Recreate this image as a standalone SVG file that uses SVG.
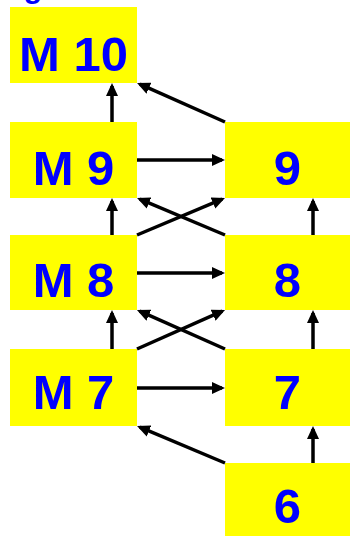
<svg xmlns="http://www.w3.org/2000/svg" width="350" height="536" viewBox="0 0 350 536">
  <style>
    .box { fill: #FFFF00; }
    .lbl { font-family: "Liberation Sans", Arial, sans-serif; font-weight: bold; font-size: 49px; fill: #0000FF; text-anchor: middle; }
    .arr { stroke: #000000; stroke-width: 3.5; fill: none; marker-end: url(#ah); }
  </style>
  <defs>
    <marker id="ah" markerUnits="userSpaceOnUse" markerWidth="13" markerHeight="12" viewBox="0 0 13 12" refX="10" refY="6" orient="auto">
      <path d="M0,0 L13,6 L0,12 z" fill="#000000"/>
    </marker>
  </defs>
  <rect width="350" height="536" fill="#FFFFFF"/>
  <text x="33" y="-2" style="font-family: 'Liberation Sans', Arial, sans-serif; font-weight: bold; font-size: 30px; fill: #0000FF; text-anchor: middle;">g</text>

  <g id="nodeM10"><rect class="box" x="10" y="7" width="127" height="76"/><text class="lbl" x="73.5" y="71">M 10</text></g>
  <g id="nodeM9"><rect class="box" x="10" y="122" width="127" height="76"/><text class="lbl" x="73.5" y="185">M 9</text></g>
  <g id="nodeM8"><rect class="box" x="10" y="235" width="127" height="75"/><text class="lbl" x="73.5" y="297">M 8</text></g>
  <g id="nodeM7"><rect class="box" x="10" y="349" width="127" height="77"/><text class="lbl" x="73.5" y="409">M 7</text></g>
  <g id="node9"><rect class="box" x="225" y="122" width="125" height="76"/><text class="lbl" x="287.5" y="185">9</text></g>
  <g id="node8"><rect class="box" x="225" y="235" width="125" height="75"/><text class="lbl" x="287.5" y="297">8</text></g>
  <g id="node7"><rect class="box" x="225" y="349" width="125" height="77"/><text class="lbl" x="287.5" y="409">7</text></g>
  <g id="node6"><rect class="box" x="225" y="463" width="125" height="73"/><text class="lbl" x="287.5" y="523">6</text></g>

  <g id="connectors">
    <line class="arr" x1="112" y1="122" x2="112" y2="86"/>
    <line class="arr" x1="112" y1="235" x2="112" y2="201"/>
    <line class="arr" x1="112" y1="349" x2="112" y2="313"/>
    <line class="arr" x1="313" y1="235" x2="313" y2="201"/>
    <line class="arr" x1="313" y1="349" x2="313" y2="313"/>
    <line class="arr" x1="313" y1="463" x2="313" y2="429"/>
    <line class="arr" x1="137" y1="160" x2="222" y2="160"/>
    <line class="arr" x1="137" y1="273" x2="222" y2="273"/>
    <line class="arr" x1="137" y1="388" x2="222" y2="388"/>
    <line class="arr" x1="137" y1="235" x2="222.2" y2="199.2"/>
    <line class="arr" x1="225" y1="235" x2="139.8" y2="199.2"/>
    <line class="arr" x1="137" y1="349" x2="222.3" y2="311.2"/>
    <line class="arr" x1="225" y1="349" x2="139.7" y2="311.2"/>
    <line class="arr" x1="225" y1="122" x2="139.8" y2="84.2"/>
    <line class="arr" x1="225" y1="463" x2="139.8" y2="427.2"/>
  </g>
</svg>
